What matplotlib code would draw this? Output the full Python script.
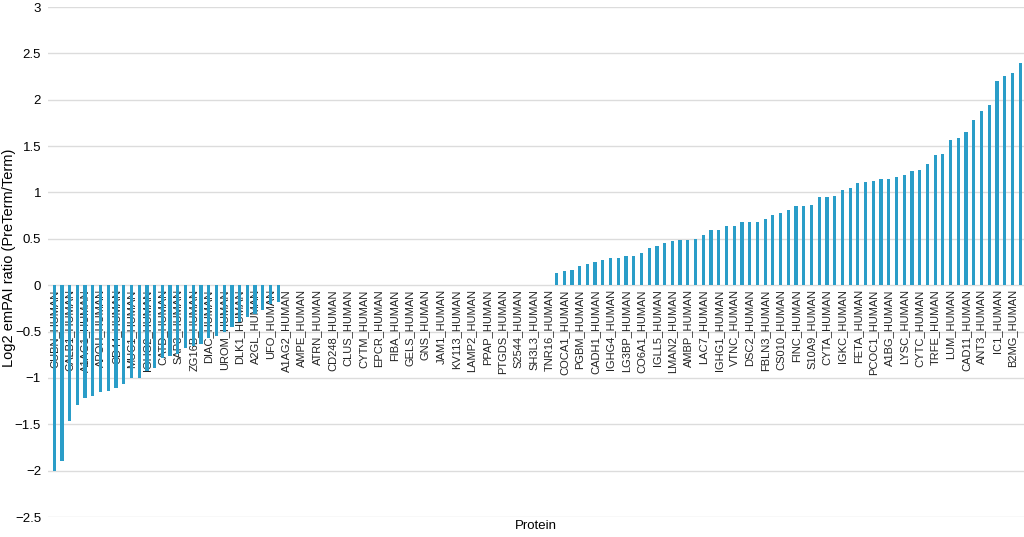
import numpy as np
import matplotlib
matplotlib.use("Agg")
import matplotlib.pyplot as plt
from matplotlib.ticker import FuncFormatter

plt.rcParams['font.family'] = ['Liberation Sans', 'DejaVu Sans']

# ── data ──
# labels sit on every other bar (even positions)
proteins = ['CUBN', 'CALB1', 'A1AG1', 'APOH', 'CD44', 'MUC1', 'IGHG2', 'CATD', 'SAP3',
            'ZG16B', 'DIAC', 'UROM', 'DLK1', 'A2GL', 'UFO', 'A1AG2', 'AMPE', 'ATRN',
            'CD248', 'CLUS', 'CYTM', 'EPCR', 'FIBA', 'GELS', 'GNS', 'JAM1', 'KV113',
            'LAMP2', 'PPAP', 'PTGDS', 'S2544', 'SH3L3', 'TNR16', 'COCA1', 'PGBM',
            'CADH1', 'IGHG4', 'LG3BP', 'CO6A1', 'IGLL5', 'LMAN2', 'AMBP', 'LAC7',
            'IGHG1', 'VTNC', 'DSC2', 'FBLN3', 'CS010', 'FINC', 'S10A9', 'CYTA', 'IGKC',
            'FETA', 'PCOC1', 'A1BG', 'LYSC', 'CYTC', 'TRFE', 'LUM', 'CAD11', 'ANT3',
            'IC1', 'B2MG']

log2_down = [-2.00, -1.90, -1.47, -1.29, -1.22, -1.19, -1.15, -1.14, -1.11, -1.07,
             -1.00, -1.00, -0.93, -0.89, -0.79, -0.76, -0.74, -0.68, -0.66, -0.63,
             -0.57, -0.55, -0.50, -0.45, -0.40, -0.34, -0.31, -0.27, -0.20, -0.18]
log2_flat = [0.0] * 35
log2_up = [0.13, 0.15, 0.16, 0.21, 0.23, 0.25, 0.27, 0.29, 0.29, 0.31, 0.32, 0.35,
           0.40, 0.42, 0.45, 0.48, 0.49, 0.49, 0.50, 0.54, 0.59, 0.59, 0.64, 0.64,
           0.68, 0.68, 0.68, 0.71, 0.76, 0.78, 0.81, 0.85, 0.85, 0.86, 0.95, 0.95,
           0.96, 1.03, 1.05, 1.10, 1.11, 1.12, 1.14, 1.15, 1.17, 1.19, 1.23, 1.24,
           1.31, 1.40, 1.42, 1.57, 1.59, 1.65, 1.78, 1.88, 1.94, 2.20, 2.26, 2.29, 2.40]

values = log2_down + log2_flat + log2_up
x = np.arange(len(values))

# ── plot ──
fig = plt.figure(figsize=(10.24, 5.37), dpi=100)
ax = fig.add_axes([48 / 1024, 1 - 517 / 537, 976 / 1024, 510 / 537])

ax.bar(x, values, width=0.42, color='#2a9dc8', zorder=3)

for pos, name in zip(x[::2], proteins):
    ax.text(pos, -0.045, f"{name}_HUMAN", rotation=90, ha='center', va='top',
            fontsize=8, color='#222222', zorder=2)

ax.set_xlim(-0.8, 125.5)
ax.set_ylim(-2.5, 3)
ax.set_yticks(np.arange(-2.5, 3.01, 0.5))
ax.yaxis.set_major_formatter(FuncFormatter(lambda v, p: f"{v:g}".replace('-', '\u2212')))
ax.set_xticks([])
ax.tick_params(axis='y', length=0, pad=5, labelsize=9.5)
ax.grid(True, axis='y', color='#dcdcdc', linewidth=1.0, zorder=0)
for s in ax.spines.values():
    s.set_visible(False)

ax.set_xlabel("Protein", fontsize=9.5, labelpad=2)
fig.text(9 / 1024, 1 - 258 / 537, "Log2 emPAI ratio (PreTerm/Term)", rotation=90,
         ha='center', va='center', fontsize=10.5)

plt.savefig("out.png", dpi=100)
